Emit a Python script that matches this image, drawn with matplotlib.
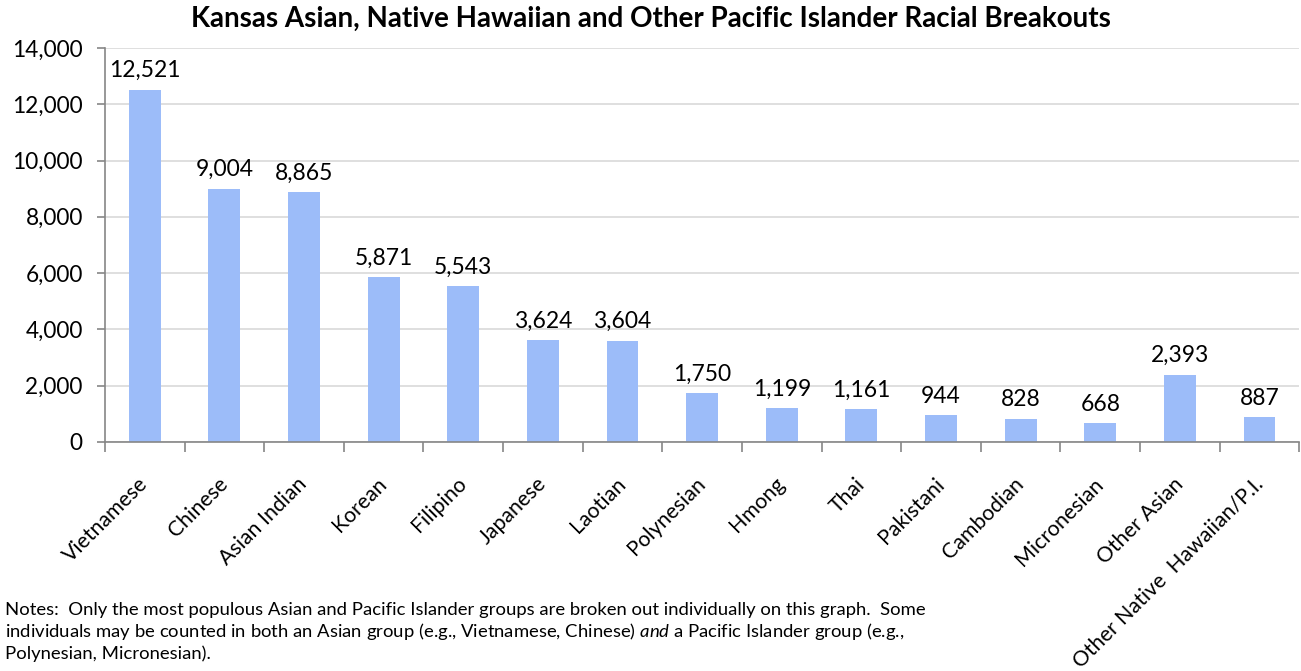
import matplotlib
matplotlib.use("Agg")
import matplotlib.pyplot as plt
from matplotlib.ticker import FuncFormatter, MultipleLocator, FixedLocator

categories = ["Vietnamese", "Chinese", "Asian Indian", "Korean", "Filipino", "Japanese",
              "Laotian", "Polynesian", "Hmong", "Thai", "Pakistani", "Cambodian",
              "Micronesian", "Other Asian", "Other Native  Hawaiian/P.I."]
values = [12521, 9004, 8865, 5871, 5543, 3624, 3604, 1750, 1199, 1161, 944, 828, 668, 2393, 887]

title = "Kansas Asian, Native Hawaiian and Other Pacific Islander Racial Breakouts"
notes = ("Notes:  Only the most populous Asian and Pacific Islander groups are broken out individually on this graph.  Some\n"
         "individuals may be counted in both an Asian group (e.g., Vietnamese, Chinese) $\\it{and}$ a Pacific Islander group (e.g.,\n"
         "Polynesian, Micronesian).")

plt.rcParams['font.family'] = ['Lato', 'DejaVu Sans']
plt.rcParams['mathtext.fontset'] = 'custom'
plt.rcParams['mathtext.it'] = 'Lato:italic'

fig = plt.figure(figsize=(13.01, 6.71), dpi=100)
ax = fig.add_axes([0.0807, 0.3413, 0.918, 0.5872])

x = list(range(len(categories)))
bars = ax.bar(x, values, width=0.4, color="#9cbcf9", zorder=2)
ax.set_xlim(-0.5, len(categories) - 0.5)
ax.set_ylim(0, 14000)

ax.yaxis.set_major_locator(MultipleLocator(2000))
ax.yaxis.set_major_formatter(FuncFormatter(lambda v, p: f"{int(v):,}"))
ax.grid(axis="y", color="#d9d9d9", linewidth=1.2, zorder=0)
ax.tick_params(axis="y", labelsize=16.3, length=6, color="#868686", width=1.2, pad=10)

ax.xaxis.set_major_locator(FixedLocator(x))
ax.set_xticklabels(categories, rotation=45, ha="right", va="center", rotation_mode="anchor", fontsize=15.3)
ax.tick_params(axis="x", which="major", length=0, pad=28)
ax.xaxis.set_minor_locator(FixedLocator([i - 0.5 for i in range(len(categories) + 1)]))
ax.tick_params(axis="x", which="minor", length=7, color="#868686", width=1.2)

for s in ["top", "right"]:
    ax.spines[s].set_visible(False)
for s in ["left", "bottom"]:
    ax.spines[s].set_color("#868686")
    ax.spines[s].set_linewidth(1.2)

for xi, v in zip(x, values):
    ax.annotate(f"{v:,}", (xi, v), xytext=(0, 6), textcoords="offset points",
                ha="center", va="bottom", fontsize=16.5)

fig.text(0.5, 0.972, title, ha="center", va="center", fontsize=20, fontweight="bold")
fig.text(0.004, 0.014, notes, ha="left", va="bottom", fontsize=13.3, linespacing=1.22)

fig.savefig("out.png", dpi=100)
